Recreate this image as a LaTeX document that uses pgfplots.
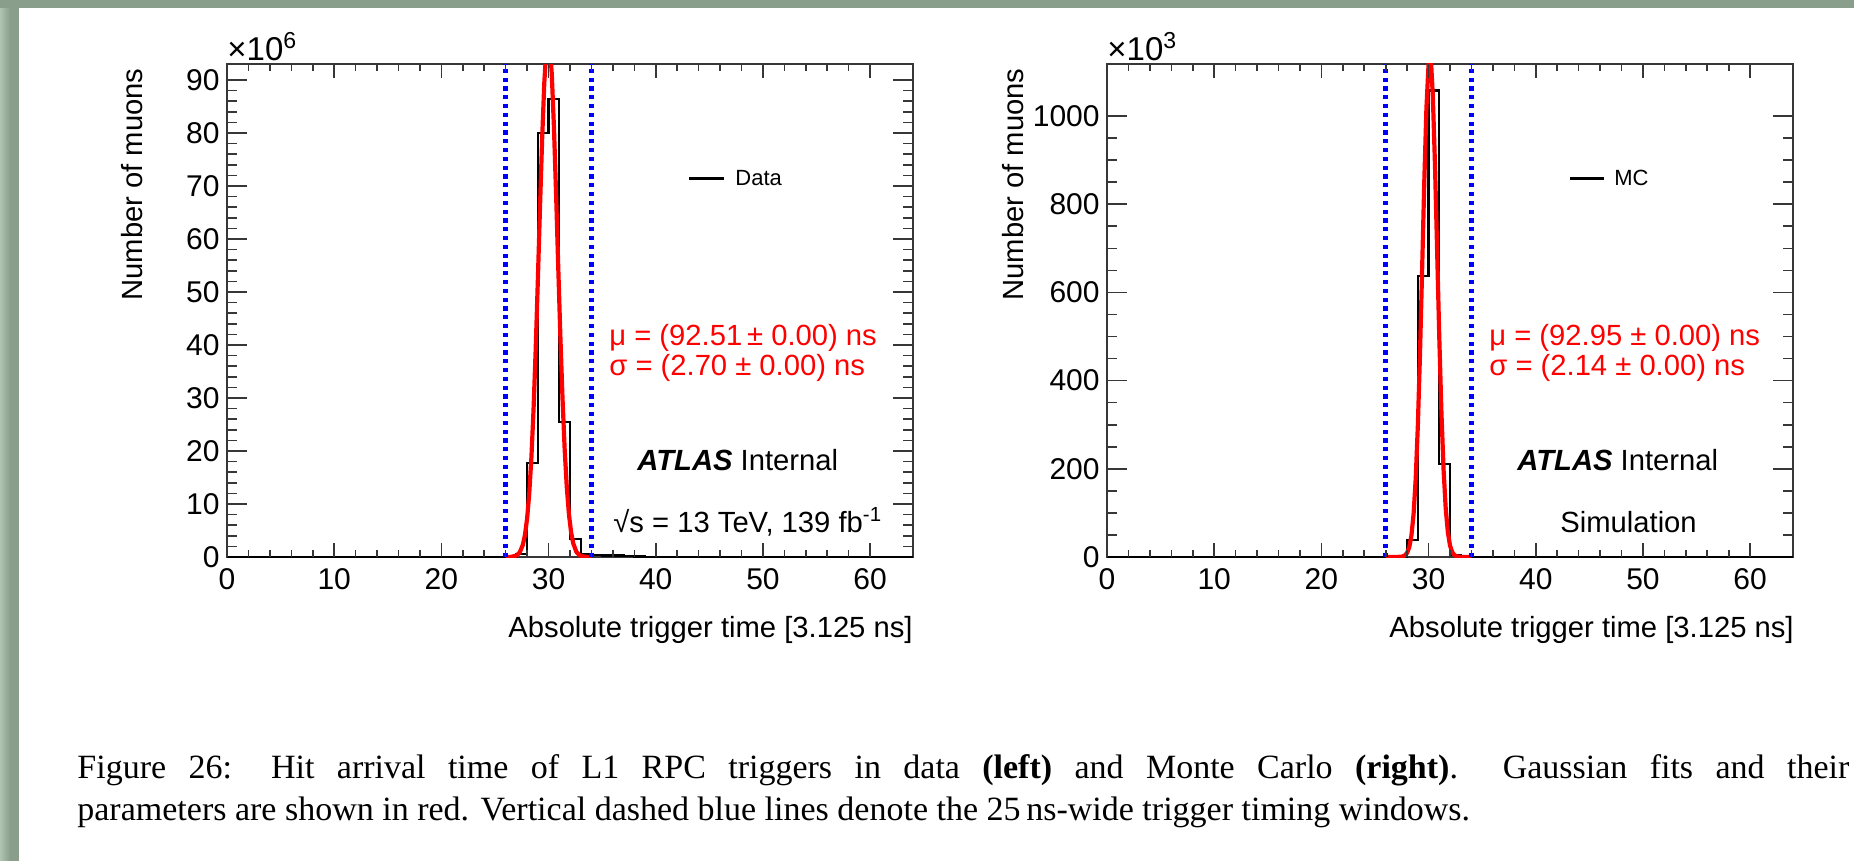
\documentclass[border=0pt]{standalone}
\usepackage{fontspec}
\setmainfont{Liberation Sans}
\newfontfamily\capfont{Liberation Serif}
\usepackage{pgfplots}
\pgfplotsset{compat=1.18}
\definecolor{framec}{RGB}{138,158,140}
\definecolor{framel}{RGB}{176,198,176}
\definecolor{axc}{RGB}{55,55,55}
\newcommand\fA{\fontsize{14.6}{17}\selectfont}
\newcommand\fT{\fontsize{15}{17}\selectfont}
\newcommand\fL{\fontsize{11}{13}\selectfont}
\pgfplotsset{rootstyle/.style={
  scale only axis, width=343pt, height=246.5pt,
  anchor=south west,
  xmin=0, xmax=64, ymin=0,
  axis line style={line width=0.9pt, axc},
  tick align=inside,
  tick style={line width=0.8pt, axc},
  xticklabel style={font=\fT, inner sep=0pt, yshift=-5.5pt},
  yticklabel style={font=\fT, inner sep=0pt, xshift=-3.5pt},
  /pgf/number format/assume math mode=true,
  /pgf/number format/1000 sep={},
  scaled y ticks=false,
  clip=true,
}}
\begin{document}
\begin{tikzpicture}
\fill[white] (0,0) rectangle (927pt,-430.5pt);
\path[use as bounding box] (0,0) rectangle (927pt,-430.5pt);
\shade[left color=framel, right color=framec] (0,0) rectangle (5pt,-430.5pt);
\fill[framec] (4.9pt,0) rectangle (9.5pt,-430.5pt);
\fill[framec] (0,0) rectangle (927pt,-4pt);

% ---------------- Left panel (Data) ----------------
\begin{axis}[rootstyle, at={(113.5pt,-278.5pt)}, ymax=93,
  xtick=\empty, ytick={0,10,...,90}, minor y tick num=4,
  major tick length=10pt, minor tick length=5pt]
\addplot[const plot, black, line width=1.2pt] coordinates {
 (0,0.05) (27,0.6) (28,17.7) (29,80.0) (30,86.4) (31,25.5) (32,3.4) (33,0.45)
 (34,0.35) (35,0.3) (36,0.25) (37,0.2) (38,0.12) (39,0.05) (64,0.05)};
\addplot[red, line width=2.1pt] coordinates {
 (26.0,0.0025) (26.5,0.031) (27.0,0.267) (27.3,0.826) (27.6,2.28) (27.8,4.18)
 (28.0,7.28) (28.2,12.03) (28.4,18.8) (28.6,27.9) (28.8,39.2) (29.0,52.2)
 (29.2,65.9) (29.4,78.8) (29.6,89.4) (29.8,96.1) (29.97,98.0) (30.1,96.9)
 (30.3,91.1) (30.5,81.2) (30.7,68.6) (30.9,54.9) (31.1,41.7) (31.3,30.0)
 (31.5,20.4) (31.7,13.2) (31.9,8.09) (32.1,4.69) (32.3,2.58) (32.6,0.953)
 (32.9,0.312) (33.4,0.037) (34.0,0.002)};
\addplot[blue, line width=2.3pt, line cap=butt, dash pattern=on 2.1pt off 2.3pt] coordinates {(26,0) (26,93)};
\addplot[blue, line width=2.3pt, line cap=butt, dash pattern=on 2.1pt off 2.3pt] coordinates {(34,0) (34,93)};
\end{axis}
\begin{axis}[rootstyle, at={(113.5pt,-278.5pt)}, ymax=93,
  ytick=\empty, xtick={0,10,...,60}, minor x tick num=4,
  major tick length=7pt, minor tick length=3.5pt, axis line style={draw=none}]
\end{axis}

% ---------------- Right panel (MC) ----------------
\begin{axis}[rootstyle, at={(553.5pt,-278.5pt)}, ymax=1118,
  xtick=\empty, ytick={0,200,...,1000}, minor y tick num=3,
  major tick length=10pt, minor tick length=5pt]
\addplot[const plot, black, line width=1.2pt] coordinates {
 (0,0) (27,1.5) (28,39) (29,637) (30,1058) (31,211) (32,4) (33,1) (34,0) (64,0)};
\addplot[red, line width=2.1pt] coordinates {
 (26.0,0) (27.0,0.036) (27.5,0.756) (27.8,3.67) (28.0,9.44) (28.2,22.3)
 (28.4,48.5) (28.6,96.8) (28.8,177.3) (29.0,298.2) (29.2,460.6) (29.4,653.3)
 (29.6,850.9) (29.8,1017.6) (30.0,1117.7) (30.12,1135) (30.25,1114.8)
 (30.4,1044.1) (30.6,887.9) (30.8,693.5) (31.0,497.4) (31.2,327.6)
 (31.4,198.1) (31.6,110.0) (31.8,56.1) (32.0,26.3) (32.2,11.3) (32.4,4.46)
 (32.7,0.94) (33.2,0.046) (34.0,0)};
\addplot[blue, line width=2.3pt, line cap=butt, dash pattern=on 2.1pt off 2.3pt] coordinates {(26,0) (26,1118)};
\addplot[blue, line width=2.3pt, line cap=butt, dash pattern=on 2.1pt off 2.3pt] coordinates {(34,0) (34,1118)};
\end{axis}
\begin{axis}[rootstyle, at={(553.5pt,-278.5pt)}, ymax=1118,
  ytick=\empty, xtick={0,10,...,60}, minor x tick num=4,
  major tick length=7pt, minor tick length=3.5pt, axis line style={draw=none}]
\end{axis}

% ---------------- Texts left ----------------
\node[anchor=base west, inner sep=0, font=\fontsize{16.5}{18}\selectfont] at (113.5pt,-30.5pt) {×10\textsuperscript{6}};
\node[rotate=90, anchor=base east, inner sep=0, font=\fA] at (71pt,-34pt) {Number of muons};
\node[anchor=base east, inner sep=0, font=\fA] at (456.5pt,-318.5pt) {Absolute trigger time [3.125 ns]};
\draw[black, line width=1.1pt] (344.5pt,-89.25pt) -- (362pt,-89.25pt);
\node[anchor=base west, inner sep=0, font=\fL] at (367.5pt,-93pt) {Data};
\node[anchor=base west, inner sep=0, font=\fA, text=red] at (304.5pt,-173pt) {μ = (92.51\,± 0.00) ns};
\node[anchor=base west, inner sep=0, font=\fA, text=red] at (304.5pt,-188pt) {σ = (2.70 ± 0.00) ns};
\node[anchor=base west, inner sep=0, font=\fA] at (318.5pt,-235.5pt) {\textbf{\textit{ATLAS}} Internal};
\node[anchor=base west, inner sep=0, font=\fA] at (306.5pt,-266pt) {√s = 13 TeV, 139 fb\textsuperscript{-1}};

% ---------------- Texts right ----------------
\node[anchor=base west, inner sep=0, font=\fontsize{16.5}{18}\selectfont] at (553.5pt,-30.5pt) {×10\textsuperscript{3}};
\node[rotate=90, anchor=base east, inner sep=0, font=\fA] at (511.5pt,-34pt) {Number of muons};
\node[anchor=base east, inner sep=0, font=\fA] at (897pt,-318.5pt) {Absolute trigger time [3.125 ns]};
\draw[black, line width=1.1pt] (785pt,-89.25pt) -- (802pt,-89.25pt);
\node[anchor=base west, inner sep=0, font=\fL] at (807pt,-93pt) {MC};
\node[anchor=base west, inner sep=0, font=\fA, text=red] at (744.5pt,-173pt) {μ = (92.95 ± 0.00) ns};
\node[anchor=base west, inner sep=0, font=\fA, text=red] at (744.5pt,-188pt) {σ = (2.14 ± 0.00) ns};
\node[anchor=base west, inner sep=0, font=\fA] at (758.5pt,-235.5pt) {\textbf{\textit{ATLAS}} Internal};
\node[anchor=base west, inner sep=0, font=\fA] at (780pt,-266pt) {Simulation};

% ---------------- Caption ----------------
\node[anchor=base west, inner sep=0, font=\capfont\fontsize{17}{20}\selectfont] at (38.5pt,-389pt)
 {\hbox to 886pt{Figure 26: Hit arrival time of L1 RPC triggers in data \textbf{(left)} and Monte Carlo \textbf{(right)}.\ \ Gaussian fits and their}};
\node[anchor=base west, inner sep=0, font=\capfont\fontsize{17}{20}\selectfont] at (38.5pt,-410pt)
 {parameters are shown in red. Vertical dashed blue lines denote the 25\,ns-wide trigger timing windows.};
\end{tikzpicture}
\end{document}
